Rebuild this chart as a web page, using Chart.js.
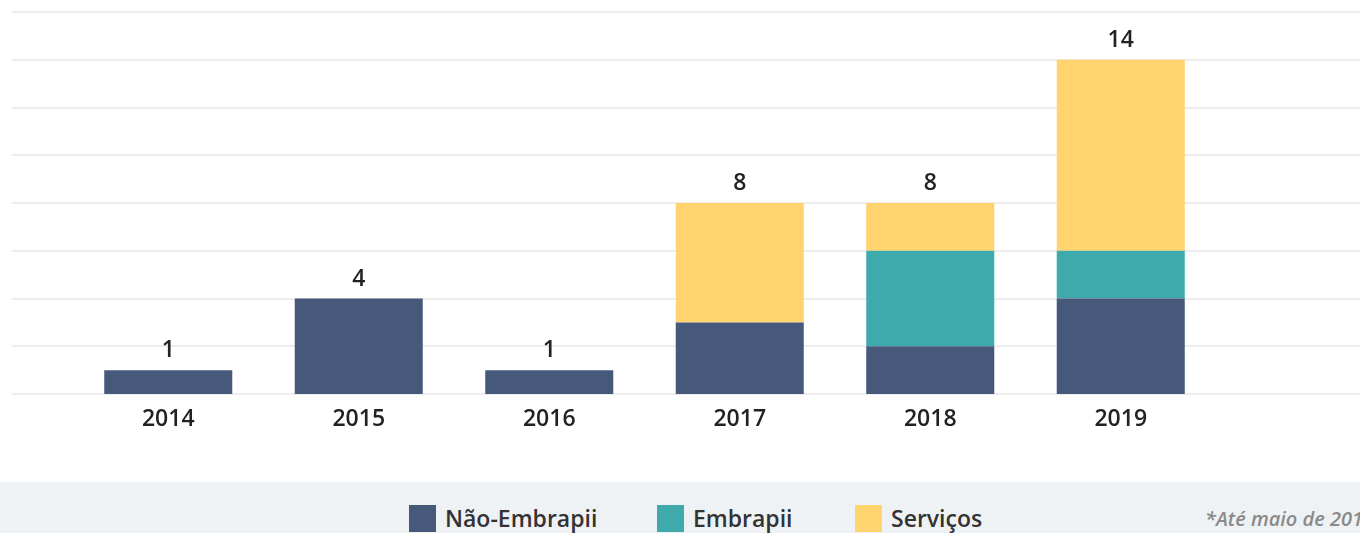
<!DOCTYPE html>
<html>
<head>
<meta charset="utf-8">
<script src="https://cdn.jsdelivr.net/npm/chart.js@4"></script>
<style>
  body { margin: 0; background: #fff; font-family: "Open Sans", sans-serif; }
  #wrap { position: relative; width: 1360px; height: 533px; overflow: hidden; }
  #box { position: absolute; left: 0; top: 0; width: 1360px; height: 482px; }
  #footer { position: absolute; left: 0; top: 482px; width: 1360px; height: 51px; background: #eff2f5; }
  .item { position: absolute; top: 23px; height: 27px; font-size: 23px; font-weight: 600; color: #333; line-height: 27px; white-space: nowrap; }
  .item span { display: inline-block; width: 27px; height: 27px; vertical-align: top; margin-right: 9px; }
  #note { position: absolute; left: 1205px; top: 23px; font-size: 20px; font-style: italic; font-weight: 600; color: #8a8a8a; line-height: 27px; white-space: nowrap; }
</style>
</head>
<body>
<div id="wrap">
  <div id="box"><canvas id="barChart"></canvas></div>
  <div id="footer"></div>
</div>
<script>
var years = ['2014', '2015', '2016', '2017', '2018', '2019'];
var naoEmbrapii = [1, 4, 1, 3, 2, 4];
var embrapii = [0, 0, 0, 0, 4, 2];
var servicos = [0, 0, 0, 5, 2, 8];
var seriesNames = ['Não-Embrapii', 'Embrapii', 'Serviços'];
var seriesColors = ['#46597a', '#3eaaab', '#ffd36e'];
var yTicks = [0, 2, 4, 6, 8, 10, 12, 14, 16];
var noteText = '*Até maio de 2019';

// linhas de grade de ponta a ponta
var gridPlugin = {
  id: 'wideGrid',
  beforeDatasetsDraw: function(chart) {
    var c = chart.ctx;
    var y = chart.scales.y;
    c.save();
    c.strokeStyle = '#ededed';
    c.lineWidth = 2;
    yTicks.forEach(function(t) {
      var py = Math.round(y.getPixelForValue(t));
      c.beginPath();
      c.moveTo(12, py);
      c.lineTo(chart.width, py);
      c.stroke();
    });
    c.restore();
  }
};

// totais em cima das barras
var totalPlugin = {
  id: 'totals',
  afterDatasetsDraw: function(chart) {
    var c = chart.ctx;
    var x = chart.scales.x;
    var y = chart.scales.y;
    c.save();
    c.font = '600 23px "Open Sans"';
    c.fillStyle = '#222';
    c.textAlign = 'center';
    c.textBaseline = 'bottom';
    for (var i = 0; i < years.length; i++) {
      var total = naoEmbrapii[i] + embrapii[i] + servicos[i];
      c.fillText(total, x.getPixelForValue(i), y.getPixelForValue(total) - 8);
    }
    c.restore();
  }
};

var ctx = document.getElementById('barChart');
var chart = new Chart(ctx, {
  type: 'bar',
  data: {
    labels: years,
    datasets: [
      { label: seriesNames[0], data: naoEmbrapii, backgroundColor: seriesColors[0] },
      { label: seriesNames[1], data: embrapii, backgroundColor: seriesColors[1] },
      { label: seriesNames[2], data: servicos, backgroundColor: seriesColors[2] }
    ]
  },
  options: {
    responsive: true,
    maintainAspectRatio: false,
    animation: false,
    categoryPercentage: 0.672,
    barPercentage: 1,
    layout: { padding: { left: 73, right: 144, top: 12, bottom: 0 } },
    plugins: {
      legend: { display: false },
      tooltip: { enabled: false }
    },
    scales: {
      x: {
        stacked: true,
        grid: { display: false },
        border: { display: false },
        ticks: {
          padding: 4,
          color: '#222',
          font: { family: 'Open Sans', size: 23, weight: '600' }
        },
        afterFit: function(scale) { scale.height = 88; }
      },
      y: {
        stacked: true,
        display: false,
        min: 0,
        max: 16,
        ticks: { stepSize: 2 }
      }
    }
  },
  plugins: [gridPlugin, totalPlugin]
});

var footer = document.getElementById('footer');
var legendX = [409, 657, 855];
seriesNames.forEach(function(name, i) {
  var d = document.createElement('div');
  d.className = 'item';
  d.style.left = legendX[i] + 'px';
  d.innerHTML = '<span style="background:' + seriesColors[i] + '"></span>' + name;
  footer.appendChild(d);
});
var note = document.createElement('div');
note.id = 'note';
note.textContent = noteText;
footer.appendChild(note);
</script>
</body>
</html>
